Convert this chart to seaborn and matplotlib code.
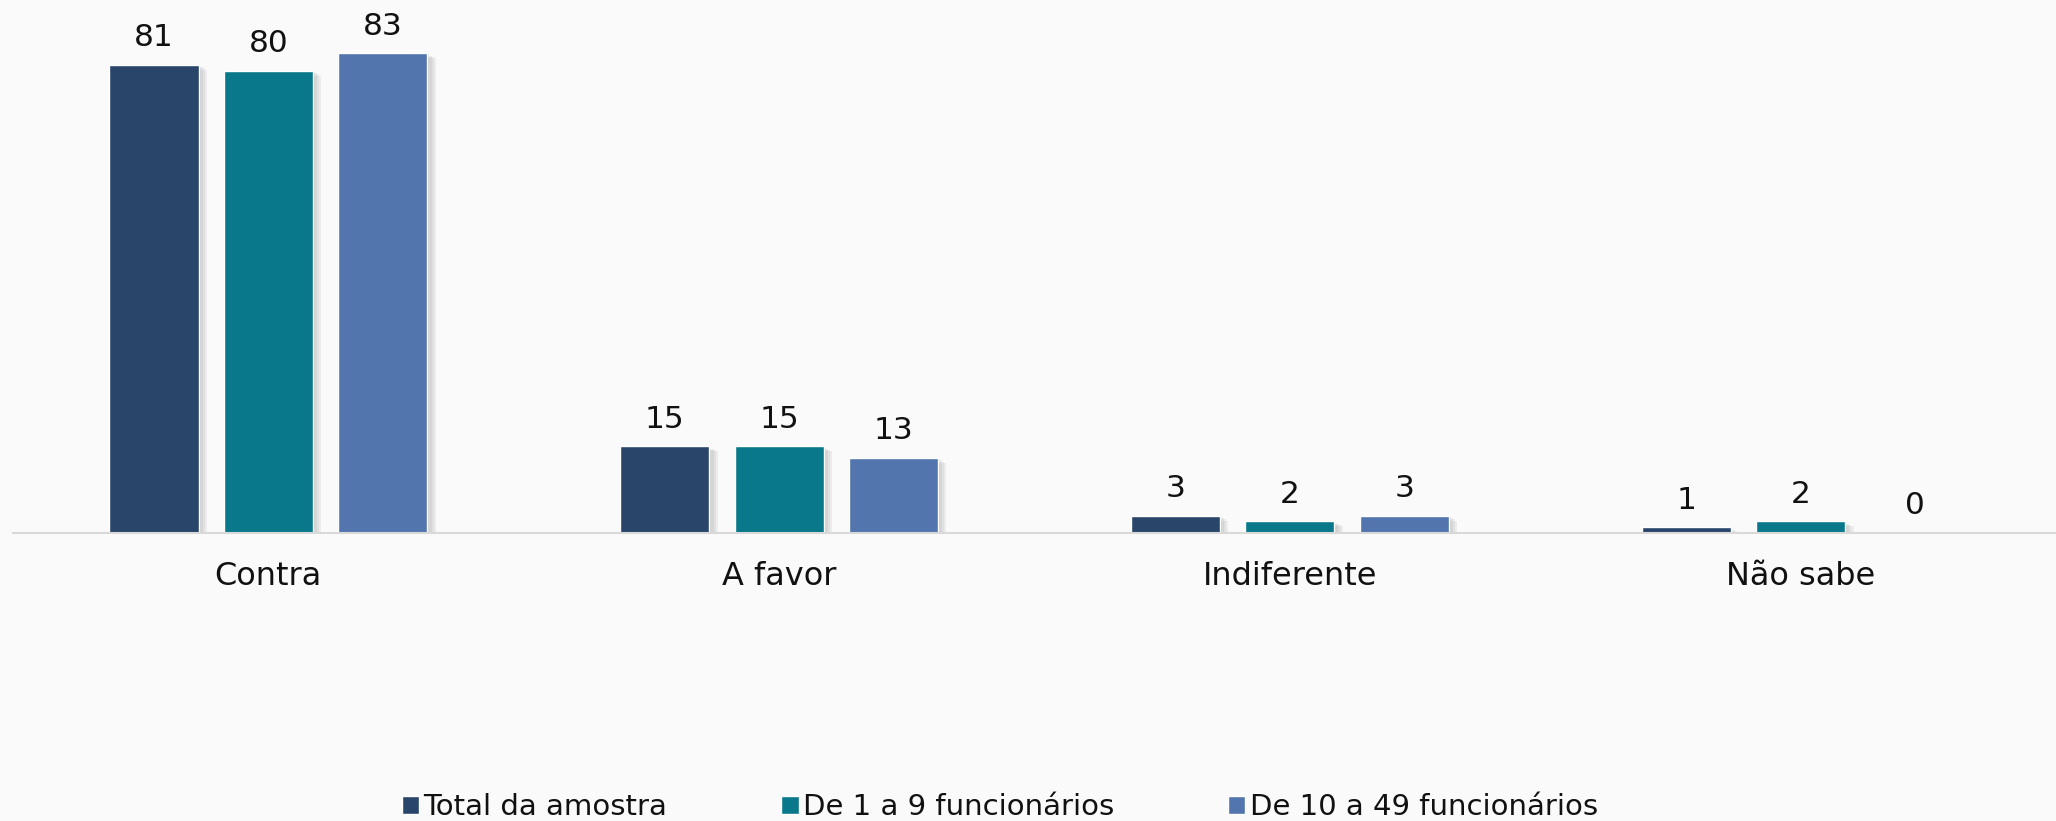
import numpy as np
import pandas as pd
import matplotlib
matplotlib.use("Agg")
import matplotlib.pyplot as plt
import matplotlib.patheffects as pe
import seaborn as sns

# data
categories = ["Contra", "A favor", "Indiferente", "Não sabe"]
series = ["Total da amostra", "De 1 a 9 funcionários", "De 10 a 49 funcionários"]
total = [81, 15, 3, 1]
small = [80, 15, 2, 2]
medium = [83, 13, 3, 0]
colors = ["#29456A", "#08788A", "#5275AE"]

df = pd.DataFrame({
    "categoria": categories * 3,
    "grupo": [series[0]] * 4 + [series[1]] * 4 + [series[2]] * 4,
    "valor": total + small + medium,
})

sns.set_theme(style="white")
plt.rcParams["font.family"] = ["DejaVu Sans"]

fig = plt.figure(figsize=(20.56, 8.21), dpi=100, facecolor="#FAFAFA")
ax = fig.add_axes([13 / 2056, 288 / 821, 1 - 13 / 2056, 533 / 821])
ax.set_facecolor("#FAFAFA")

sns.barplot(data=df, x="categoria", y="valor", hue="grupo", order=categories,
            hue_order=series, palette=colors, width=0.672, gap=0.22,
            saturation=1, ax=ax)

# soft drop shadow to the right of each bar (a few stacked faint layers)
shadow = [pe.SimplePatchShadow(offset=(k, -k * 0.6), shadow_rgbFace="#7A7A7A", alpha=0.1)
          for k in (6, 4.5, 3, 1.5)]
for p in ax.patches:
    p.set_path_effects(shadow + [pe.Normal()])

for c in ax.containers:
    ax.bar_label(c, fmt="%d", padding=9, fontsize=22.5, color="#111111")

ax.set_xlim(-0.5, 3.5)
ax.set_ylim(0, 92.2)
ax.set_xlabel("")
ax.set_ylabel("")
ax.set_yticks([])
ax.tick_params(axis="x", length=0, pad=20, labelsize=23, labelcolor="#111111")
for s in ["top", "right", "left"]:
    ax.spines[s].set_visible(False)
ax.spines["bottom"].set_color("#D9D9D9")
ax.spines["bottom"].set_linewidth(1.5)

leg = ax.legend(loc="center", bbox_to_anchor=(0.483, -0.515), ncol=3, frameon=False,
                fontsize=21, handlelength=0.6, handleheight=0.6, handletextpad=0.15,
                columnspacing=3.9, labelcolor="#111111")
for h in leg.legend_handles:
    h.set_path_effects([])

fig.savefig("out.png", dpi=100, facecolor=fig.get_facecolor())
